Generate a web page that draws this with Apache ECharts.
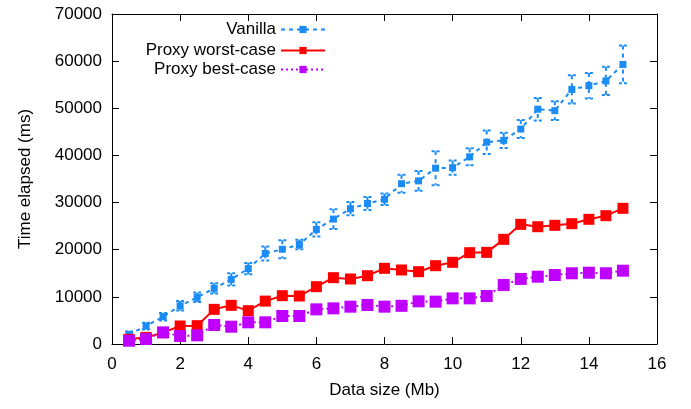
<!DOCTYPE html>
<html>
<head>
<meta charset="utf-8">
<script src="https://cdn.jsdelivr.net/npm/echarts@6/dist/echarts.min.js"></script>
<style>
html,body{margin:0;padding:0;background:#fff;}
#c{width:691px;height:409px;}
</style>
</head>
<body>
<div id="c"></div>
<script>
const sizes = [0.5,1,1.5,2,2.5,3,3.5,4,4.5,5,5.5,6,6.5,7,7.5,8,8.5,9,9.5,10,10.5,11,11.5,12,12.5,13,13.5,14,14.5,15];
const vanilla = [2050,3800,5800,8100,9900,11800,13700,16000,19200,20100,21100,24300,26500,28700,29800,30700,34000,34600,37300,37400,39700,42800,43200,45600,49800,49500,54000,54800,55800,59300];
const vanillaErr = [600,700,800,1000,1000,1100,1300,1200,1500,1900,1000,1500,2100,1400,1400,1200,1900,2100,3600,1500,1800,2500,1600,1900,2400,2000,3000,2700,3000,4000];
const worst = [990,1410,2400,3820,3890,7350,8200,7070,9100,10250,10180,12160,14070,13790,14490,16050,15700,15340,16610,17330,19370,19440,22200,25380,24880,25170,25520,26450,27220,28780];
const best = [700,1060,2470,1700,1840,4030,3670,4600,4600,5940,5940,7350,7560,7920,8270,7920,8100,9050,8980,9680,9680,10180,12510,13800,14280,14630,15000,15120,15000,15550];
const xTicks = {min:0, max:16, interval:2};
const yTicks = {min:0, max:70000, interval:10000};
const names = ['Vanilla','Proxy worst-case','Proxy best-case'];

const BLUE = '#1b8cf5', RED = '#ff0000', PURPLE = '#c000ff';
const FONT = '"Liberation Sans", Arial, sans-serif';

const chart = echarts.init(document.getElementById('c'), null, {renderer:'canvas'});
const pair = (ys) => sizes.map((x,i)=>[x, ys[i]]);

const axisCommon = {
  axisLine:{show:true, onZero:false, lineStyle:{color:'#000', width:1}},
  axisTick:{show:true, inside:true, length:7, lineStyle:{color:'#000'}},
  splitLine:{show:false}
};

const legendBase = (name, top) => ({
  data:[name], right:365, top:top, align:'right', orient:'vertical',
  padding:0, itemWidth:44, itemHeight:9, selectedMode:false,
  textStyle:{fontSize:17, color:'#000', fontFamily:FONT}
});

chart.setOption({
  animation:false,
  textStyle:{fontFamily:FONT},
  grid:{left:112, right:34, top:14, bottom:65},
  legend:[legendBase(names[0], 21), legendBase(names[1], 42), legendBase(names[2], 61)],
  xAxis:[
    Object.assign({type:'value', position:'bottom', min:xTicks.min, max:xTicks.max, interval:xTicks.interval,
      name:'Data size (Mb)', nameLocation:'middle', nameGap:38,
      nameTextStyle:{fontSize:17, color:'#000', fontFamily:FONT},
      axisLabel:{fontSize:17, color:'#000', margin:12, fontFamily:FONT, formatter:(v)=>String(v)}}, axisCommon),
    Object.assign({type:'value', position:'top', min:xTicks.min, max:xTicks.max, interval:xTicks.interval,
      axisLabel:{show:false}}, axisCommon)
  ],
  yAxis:[
    Object.assign({type:'value', position:'left', min:yTicks.min, max:yTicks.max, interval:yTicks.interval,
      name:'Time elapsed (ms)', nameLocation:'middle', nameGap:78,
      nameTextStyle:{fontSize:17, color:'#000', fontFamily:FONT},
      axisLabel:{fontSize:17, color:'#000', margin:10, fontFamily:FONT, formatter:(v)=>String(v)}}, axisCommon),
    Object.assign({type:'value', position:'right', min:yTicks.min, max:yTicks.max, interval:yTicks.interval,
      axisLabel:{show:false}}, axisCommon)
  ],
  series:[
    {
      name:names[0], type:'line', data:pair(vanilla), z:5,
      symbol:'rect', symbolSize:7,
      itemStyle:{color:BLUE},
      lineStyle:{color:BLUE, width:2, type:[4,4]}
    },
    {
      name:'vanillaErr', type:'custom', z:4,
      data:sizes.map((x,i)=>[x, vanilla[i], vanillaErr[i]]),
      renderItem:function(params, api){
        const x = api.value(0), y = api.value(1), e = api.value(2);
        const t = api.coord([x, y+e]), b = api.coord([x, y-e]);
        const hw = 4;
        const st = {stroke:BLUE, lineWidth:2, lineDash:[4,4]};
        const cs = {stroke:BLUE, lineWidth:2, lineDash:[3,2]};
        return {type:'group', children:[
          {type:'line', shape:{x1:t[0], y1:t[1], x2:b[0], y2:b[1]}, style:st},
          {type:'line', shape:{x1:t[0]-hw, y1:t[1], x2:t[0]+hw, y2:t[1]}, style:cs},
          {type:'line', shape:{x1:b[0]-hw, y1:b[1], x2:b[0]+hw, y2:b[1]}, style:cs}
        ]};
      }
    },
    {
      name:names[1], type:'line', data:pair(worst), z:6,
      symbol:'rect', symbolSize:11,
      itemStyle:{color:RED},
      lineStyle:{color:RED, width:2, type:'solid'}
    },
    {
      name:names[2], type:'line', data:pair(best), z:6,
      symbol:'rect', symbolSize:12,
      itemStyle:{color:PURPLE},
      lineStyle:{color:PURPLE, width:2, type:[2,3]}
    }
  ]
});
</script>
</body>
</html>
